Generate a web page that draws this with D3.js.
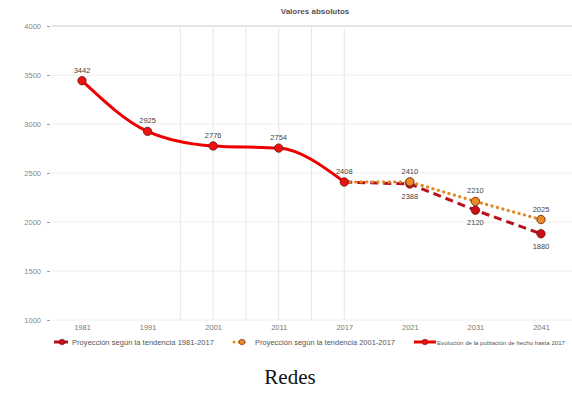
<!DOCTYPE html>
<html>
<head>
<meta charset="utf-8">
<script src="https://cdn.jsdelivr.net/npm/d3@7"></script>
<style>
  body { margin: 0; background: #fff; }
  svg { display: block; }
</style>
</head>
<body>
<svg id="chart" width="572" height="394"></svg>
<script>
const years = ["1981", "1991", "2001", "2011", "2017", "2021", "2031", "2041"];
const historic = [3442, 2925, 2776, 2754, 2408, null, null, null];
const trend1981 = [null, null, null, null, 2408, 2388, 2120, 1880];
const trend2001 = [null, null, null, null, 2408, 2410, 2210, 2025];
const yTicks = [1000, 1500, 2000, 2500, 3000, 3500, 4000];
const legendLabels = [
  "Proyección según la tendencia 1981-2017",
  "Proyección según la tendencia 2001-2017",
  "Evolución de la población de hecho hasta 2017"
];
const titleText = "Valores absolutos";
const captionText = "Redes";

const svg = d3.select("#chart");
const x = d3.scalePoint().domain(years).range([82, 541]);
const y = d3.scaleLinear().domain([1000, 4000]).range([320, 26]);
const step = x.step();
const FONT = "Liberation Sans, Arial, sans-serif";

// title
svg.append("text").attr("x", 315).attr("y", 14).attr("text-anchor", "middle")
  .attr("font-family", FONT).attr("font-size", 8)
  .attr("font-weight", "bold").attr("fill", "#555").text(titleText);

// horizontal grid
svg.append("g").selectAll("line").data(yTicks).join("line")
  .attr("x1", 52).attr("x2", 572)
  .attr("y1", d => y(d)).attr("y2", d => y(d))
  .attr("stroke", d => d === 4000 ? "#dcdcdc" : "#eeeeee").attr("stroke-width", d => d === 4000 ? 1.5 : 1);

// vertical grid (category positions and midpoints)
const vIdx = [1.5, 2, 2.5, 3, 3.5, 4];
svg.append("g").selectAll("line").data(vIdx).join("line")
  .attr("x1", d => x(years[0]) + d * step).attr("x2", d => x(years[0]) + d * step)
  .attr("y1", y(4000) + 2).attr("y2", y(1000))
  .attr("stroke", "#e6e6e6").attr("stroke-width", 1);

// y axis labels
const yAxis = d3.axisLeft(y).tickValues(yTicks).tickFormat(d3.format("d")).tickSize(3).tickPadding(6);
const gy = svg.append("g").attr("transform", "translate(50,0)").call(yAxis);
gy.select(".domain").remove();
gy.selectAll("line").attr("stroke", "#999");
gy.selectAll("text").attr("font-family", FONT)
  .attr("font-size", 7.5).attr("fill", "#888");

// x axis labels
const xAxis = d3.axisBottom(x).tickSize(0).tickPadding(5);
const gx = svg.append("g").attr("transform", `translate(0,${y(1000)})`).call(xAxis);
gx.select(".domain").remove();
gx.selectAll("text").attr("font-family", FONT)
  .attr("font-size", 7.5).attr("fill", "#777");

function seriesData(arr) {
  return years.map((yr, i) => ({ yr, v: arr[i] })).filter(d => d.v !== null);
}

const series = [
  { data: seriesData(trend1981), color: "#b5121b", fill: "#c8101a", dash: "8,5", cap: "butt", width: 3, labelPos: "below", skipFirst: true },
  { data: seriesData(trend2001), color: "#e08a25", fill: "#e8892a", dash: "0.1,5.5", cap: "round", width: 3.2, labelPos: "above", skipFirst: true },
  { data: seriesData(historic), color: "#ee0000", fill: "#ee1111", dash: null, cap: "round", width: 3, labelPos: "above", skipFirst: false }
];

series.forEach(s => {
  const line = d3.line().x(d => x(d.yr)).y(d => y(d.v))
    .curve(s.dash ? d3.curveLinear : d3.curveMonotoneX);
  svg.append("path").datum(s.data).attr("d", line)
    .attr("fill", "none").attr("stroke", s.color).attr("stroke-width", s.width)
    .attr("stroke-dasharray", s.dash).attr("stroke-linecap", s.cap);
});

series.forEach(s => {
  const pts = s.skipFirst ? s.data.slice(1) : s.data;
  svg.append("g").selectAll("circle").data(pts).join("circle")
    .attr("cx", d => x(d.yr)).attr("cy", d => y(d.v)).attr("r", 4.2)
    .attr("fill", s.fill).attr("stroke", "#6a1a10").attr("stroke-width", 0.8);
  svg.append("g").selectAll("text").data(pts).join("text")
    .attr("x", d => x(d.yr)).attr("y", d => y(d.v) + (s.labelPos === "above" ? -8 : 15))
    .attr("text-anchor", "middle")
    .attr("font-family", FONT).attr("font-size", 7.5)
    .attr("fill", "#444").text(d => d.v);
});

// legend
const legendX = [54, 234, 414];
const legendTextX = [72, 255, 437];
const legendTextW = [142, 140, 128];
const legendFont = [6.6, 6.6, 5.6];
const legendG = svg.append("g");
series.forEach((s, i) => {
  const gx0 = legendX[i];
  const ly = 342;
  const g = legendG.append("g");
  g.append("line").attr("x1", gx0).attr("x2", gx0 + (i === 2 ? 22 : 14)).attr("y1", ly).attr("y2", ly)
    .attr("stroke", s.color).attr("stroke-width", 3)
    .attr("stroke-dasharray", i === 1 ? "0.1,5" : null).attr("stroke-linecap", i === 1 ? "round" : "butt");
  g.append("circle").attr("cx", gx0 + (i === 2 ? 11 : 8)).attr("cy", ly).attr("r", 2.8)
    .attr("fill", s.fill).attr("stroke", "#6a1a10").attr("stroke-width", 0.6);
  g.append("text").attr("x", legendTextX[i]).attr("y", ly + 2.5)
    .attr("font-family", FONT).attr("font-size", legendFont[i])
    .attr("textLength", legendTextW[i]).attr("lengthAdjust", "spacingAndGlyphs")
    .attr("fill", "#555").text(legendLabels[i]);
});

// caption
svg.append("text").attr("x", 290).attr("y", 384).attr("text-anchor", "middle")
  .attr("font-family", "Liberation Serif, Times New Roman, serif").attr("font-size", 21)
  .attr("fill", "#111").text(captionText);
</script>
</body>
</html>
